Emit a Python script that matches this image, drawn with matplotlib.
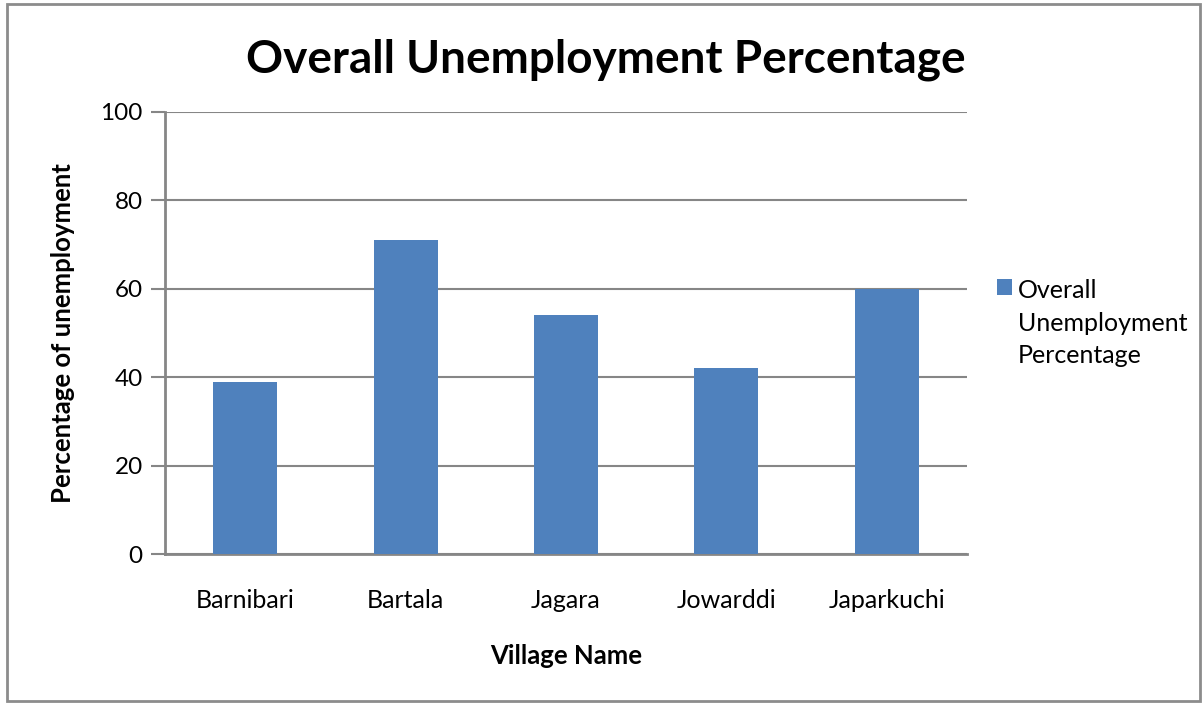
import matplotlib.pyplot as plt
from matplotlib.patches import Rectangle

villages = ['Barnibari', 'Bartala', 'Jagara', 'Jowarddi', 'Japarkuchi']
unemployment = [39, 71, 54, 42, 60]
yticks = [0, 20, 40, 60, 80, 100]

plt.rcParams['font.family'] = ['Lato', 'DejaVu Sans']

fig = plt.figure(figsize=(12.02, 7.03), dpi=100)
ax = fig.add_axes([0.1373, 0.2119, 0.8045 - 0.1373, 0.8407 - 0.2119])

# outer chart frame
fig.patches.append(Rectangle((0.006, 0.003), 0.992, 0.991, transform=fig.transFigure,
                             fill=False, edgecolor='#8c8c8c', linewidth=2))

x = range(len(villages))
ax.bar(x, unemployment, width=0.4, color='#4f81bd', zorder=3,
       label='Overall\nUnemployment\nPercentage')

ax.set_xlim(-0.5, len(villages) - 0.5)
ax.set_ylim(0, 100)
ax.set_yticks(yticks)
ax.set_xticks(list(x))
ax.set_xticklabels(villages, fontsize=18)
ax.tick_params(axis='x', length=0, pad=25)
ax.tick_params(axis='y', length=10, width=1.5, color='#868686', labelsize=17.5, pad=6)
ax.yaxis.grid(True, color='#868686', linewidth=1.5, zorder=0)

for s in ['top', 'right']:
    ax.spines[s].set_visible(False)
for s in ['left', 'bottom']:
    ax.spines[s].set_color('#868686')
    ax.spines[s].set_linewidth(2)

ax.set_xlabel('Village Name', fontsize=18.5, fontweight='bold', labelpad=23)
ax.set_ylabel('Percentage of unemployment', fontsize=18.5, fontweight='bold', labelpad=18)
fig.suptitle('Overall Unemployment Percentage', fontsize=33, fontweight='bold',
             x=0.504, y=0.945)

leg = ax.legend(loc='upper left', bbox_to_anchor=(1.037, 0.622), frameon=False,
                fontsize=18, handlelength=0.6, handleheight=0.6, handletextpad=0.25,
                borderaxespad=0, borderpad=0)
leg.get_texts()[0].set_linespacing(1.5)
# keep the swatch level with the first line of the label
for row in leg._legend_handle_box.get_children():
    for hp in row.get_children():
        hp.align = 'top'

fig.savefig('out.png', dpi=100)
